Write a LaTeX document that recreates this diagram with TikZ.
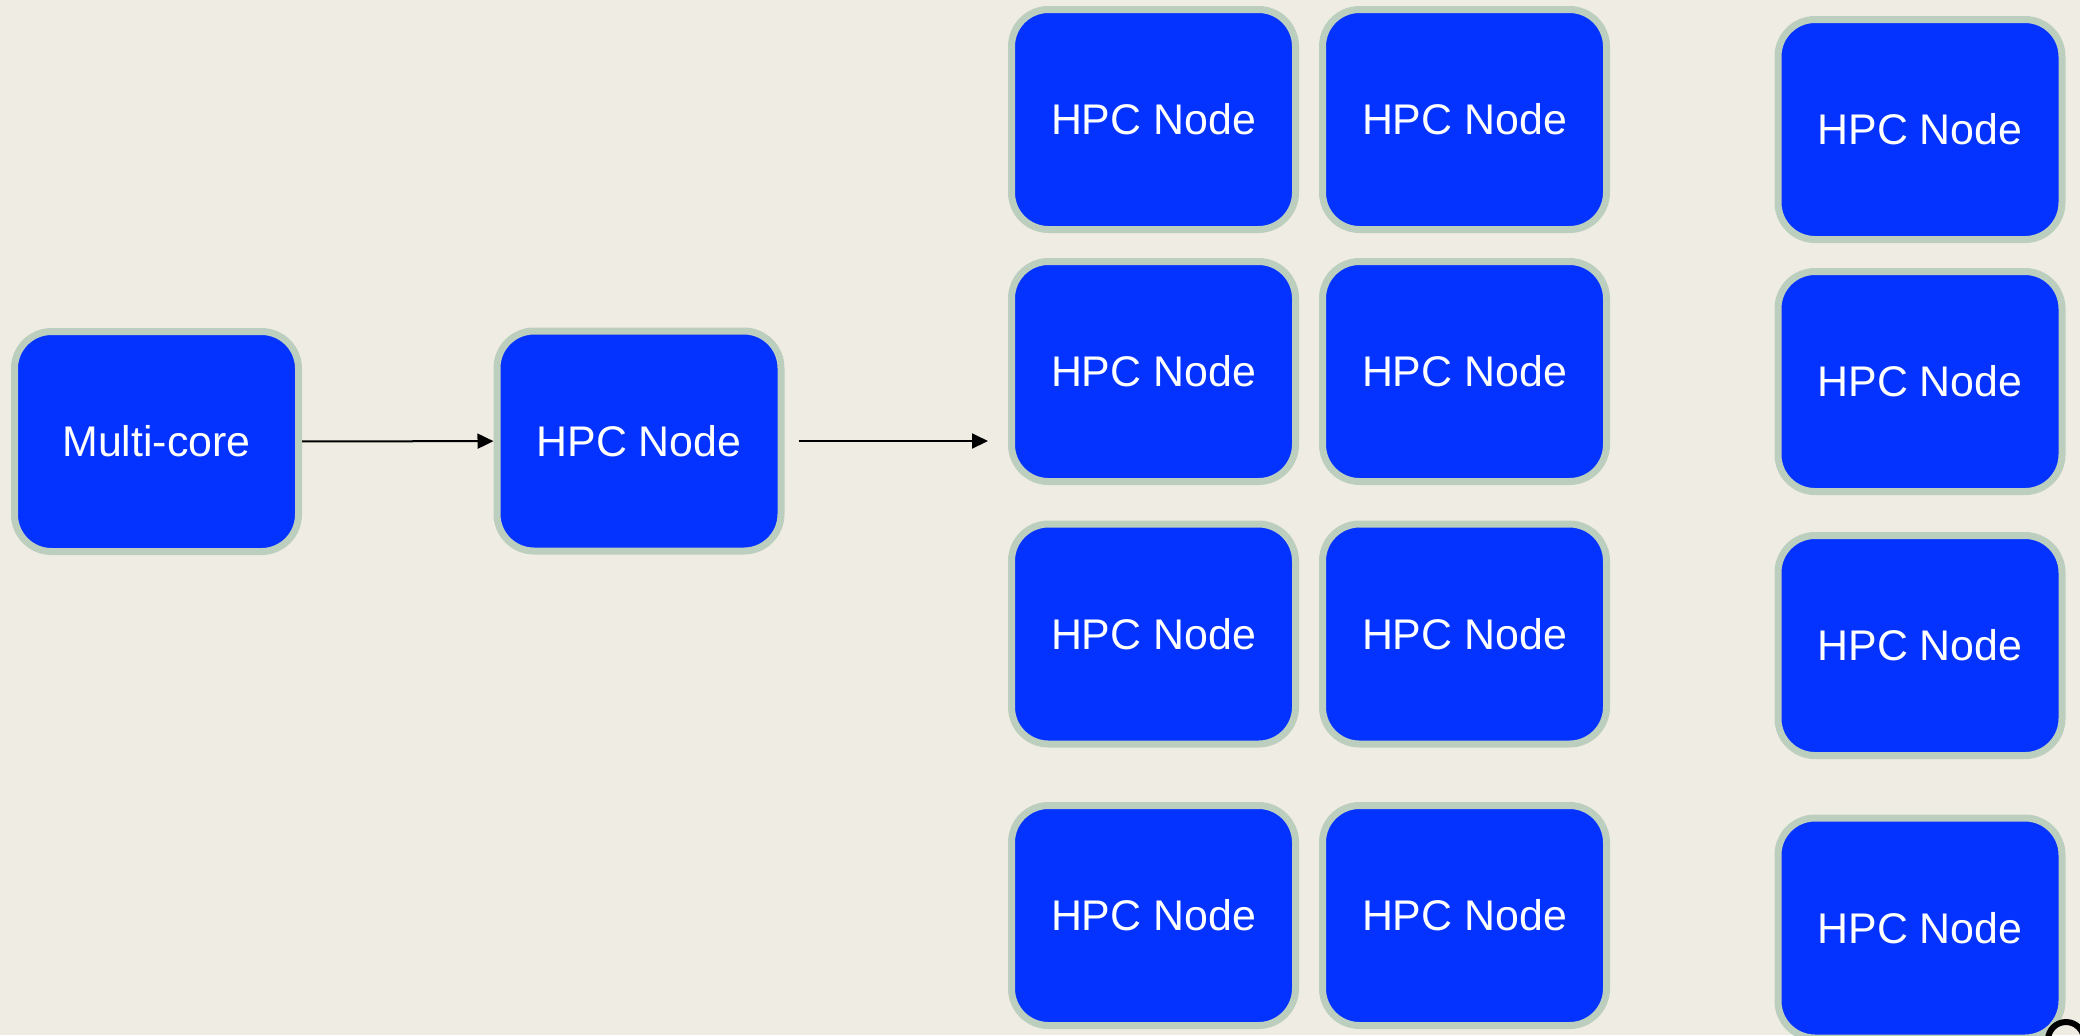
\documentclass[tikz,border=0pt]{standalone}
\usepackage{fontspec}
\setmainfont{Liberation Sans}
\usepackage{xcolor}
\usepackage{tikz}
\usetikzlibrary{arrows.meta, positioning}
\definecolor{paper}{RGB}{239, 236, 228}
\definecolor{nodeblue}{RGB}{4, 51, 255}
\definecolor{sage}{RGB}{188, 206, 190}

\begin{document}
\begin{tikzpicture}[
    box/.style={draw=sage, line width=0.07cm, rounded corners=0.37cm, fill=nodeblue,
                minimum width=2.84cm, minimum height=2.20cm, text=white,
                font=\fontsize{12.2}{14}\selectfont},
    link/.style={-{Triangle[length=0.16cm, width=0.15cm]}, line width=0.02cm}
]
    \fill[paper] (0,0) rectangle (20.8,-10.35);
    \useasboundingbox (0,0) rectangle (20.8,-10.35);

    % single machine, then one node
    \node[box] (multicore) at (1.565,-4.415) {Multi-core};
    \node[box] (hpc) at (6.39,-4.41) {HPC Node};

    % cluster: two columns side by side
    \node[box] (c11) at (11.535,-1.195) {HPC Node};
    \node[box] (c12) at (14.645,-1.195) {HPC Node};
    \node[box] (c21) at (11.535,-3.715) {HPC Node};
    \node[box] (c22) at (14.645,-3.715) {HPC Node};
    \node[box] (c31) at (11.535,-6.34) {HPC Node};
    \node[box] (c32) at (14.645,-6.34) {HPC Node};
    \node[box] (c41) at (11.535,-9.155) {HPC Node};
    \node[box] (c42) at (14.645,-9.155) {HPC Node};

    % third column, a bit lower
    \node[box] (c13) at (19.20,-1.295) {HPC Node};
    \node[box] (c23) at (19.20,-3.815) {HPC Node};
    \node[box] (c33) at (19.20,-6.455) {HPC Node};
    \node[box] (c43) at (19.20,-9.28) {HPC Node};

    \coordinate (cluster) at (9.88,-4.41);
    \draw[link] (multicore) -- (hpc);
    \draw[link, shorten <=0.14cm] (hpc) -- (cluster);

    % ring in the corner
    \draw[line width=0.06cm] (20.66,-10.40) circle (0.18);
\end{tikzpicture}
\end{document}
